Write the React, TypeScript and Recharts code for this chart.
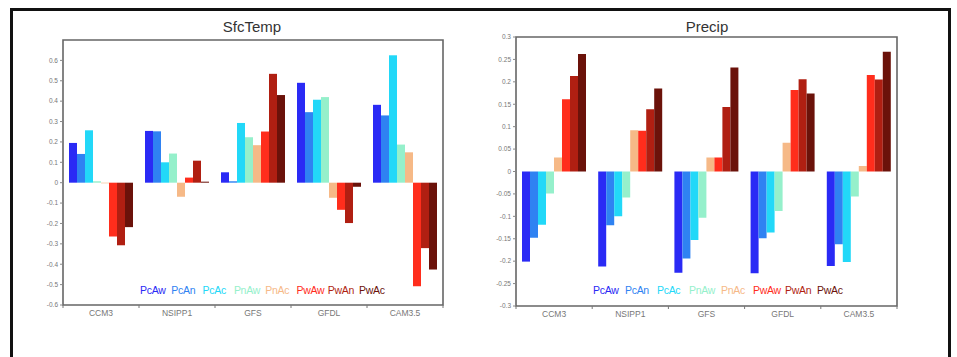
import React from "react";
import {
  Bar,
  BarChart,
  Legend,
  ReferenceArea,
  XAxis,
  YAxis,
} from "recharts";

const categories = ["CCM3", "NSIPP1", "GFS", "GFDL", "CAM3.5"];
const seriesNames = ["PcAw", "PcAn", "PcAc", "PnAw", "PnAc", "PwAw", "PwAn", "PwAc"];
const seriesColors = [
  "#2a2af5",
  "#2f82f2",
  "#22d8f8",
  "#95f0cb",
  "#f6b987",
  "#ff2d1c",
  "#b01f12",
  "#6b120a",
];

// SfcTemp, one array per experiment, in category order
const tempPcAw = [0.195, 0.254, 0.051, 0.49, 0.382];
const tempPcAn = [0.141, 0.252, 0.007, 0.346, 0.33];
const tempPcAc = [0.257, 0.1, 0.293, 0.407, 0.625];
const tempPnAw = [0.007, 0.143, 0.223, 0.42, 0.187];
const tempPnAc = [-0.003, -0.069, 0.184, -0.074, 0.149];
const tempPwAw = [-0.264, 0.025, 0.251, -0.133, -0.508];
const tempPwAn = [-0.307, 0.108, 0.534, -0.198, -0.321];
const tempPwAc = [-0.218, 0.005, 0.43, -0.02, -0.426];

// Precip
const precPcAw = [-0.201, -0.212, -0.226, -0.227, -0.211];
const precPcAn = [-0.148, -0.12, -0.194, -0.149, -0.162];
const precPcAc = [-0.119, -0.1, -0.153, -0.136, -0.202];
const precPnAw = [-0.049, -0.058, -0.103, -0.088, -0.056];
const precPnAc = [0.031, 0.092, 0.031, 0.064, 0.012];
const precPwAw = [0.161, 0.091, 0.031, 0.182, 0.215];
const precPwAn = [0.213, 0.139, 0.144, 0.206, 0.205];
const precPwAc = [0.262, 0.185, 0.232, 0.174, 0.267];

const tempTicks = [-0.6, -0.5, -0.4, -0.3, -0.2, -0.1, 0, 0.1, 0.2, 0.3, 0.4, 0.5, 0.6];
const precTicks = [-0.3, -0.25, -0.2, -0.15, -0.1, -0.05, 0, 0.05, 0.1, 0.15, 0.2, 0.25, 0.3];

function buildRows(series: number[][]) {
  return categories.map((name, i) => {
    const row: Record<string, string | number> = { name };
    seriesNames.forEach((s, k) => {
      row[s] = series[k][i];
    });
    return row;
  });
}

const tempData = buildRows([
  tempPcAw, tempPcAn, tempPcAc, tempPnAw, tempPnAc, tempPwAw, tempPwAn, tempPwAc,
]);
const precData = buildRows([
  precPcAw, precPcAn, precPcAc, precPnAw, precPnAc, precPwAw, precPwAn, precPwAc,
]);

const FONT = '"Liberation Sans", Arial, sans-serif';

const fmt = (v: number) => String(parseFloat(v.toFixed(2)));

// label at the band centre, tick marks at the band edges
function CategoryTick(props: any) {
  const { x, y, payload, index } = props;
  const half = payload?.offset || 38;
  const axisY = y - 5;
  const last = index === categories.length - 1;
  return (
    <g>
      <line x1={x - half} x2={x - half} y1={axisY} y2={axisY + 3} stroke="#777" />
      {last && (
        <line x1={x + half} x2={x + half} y1={axisY} y2={axisY + 3} stroke="#777" />
      )}
      <text
        x={x}
        y={y}
        dy="0.71em"
        textAnchor="middle"
        fill="#777"
        fontSize={8.5}
        fontFamily={FONT}
      >
        {payload.value}
      </text>
    </g>
  );
}

// legend keeps the series order (recharts would sort it by name)
function makeLegend(pitch: number) {
  return function ColorLegend() {
    return (
      <div style={{ display: "flex", fontFamily: FONT, fontSize: 10.5, letterSpacing: -0.3 }}>
        {seriesNames.map((s, k) => (
          <span key={s} style={{ color: seriesColors[k], width: pitch, whiteSpace: "nowrap" }}>
            {s}
          </span>
        ))}
      </div>
    );
  };
}

function Panel({
  title,
  data,
  domain,
  ticks,
  width,
  margin,
  legendLeft,
  legendPitch,
  titleX,
}: {
  title: string;
  data: Record<string, string | number>[];
  domain: [number, number];
  ticks: number[];
  width: number;
  margin: { top: number; right: number; bottom: number; left: number };
  legendLeft: number;
  legendPitch: number;
  titleX: number;
}) {
  return (
    <div style={{ position: "relative", width, height: 340 }}>
      <div
        style={{
          position: "absolute",
          left: titleX - 60,
          width: 120,
          top: 18,
          textAlign: "center",
          fontFamily: FONT,
          fontSize: 15,
          color: "#333",
        }}
      >
        {title}
      </div>
      <BarChart
        width={width}
        height={340}
        data={data}
        margin={margin}
        barCategoryGap={6}
        barGap={0}
      >
        <XAxis
          dataKey="name"
          axisLine={false}
          tickLine={false}
          tickSize={4}
          tickMargin={1}
          height={20}
          interval={0}
          tick={<CategoryTick />}
        />
        <YAxis
          type="number"
          domain={domain}
          ticks={ticks}
          width={30}
          axisLine={false}
          tickLine={{ stroke: "#888" }}
          tickSize={3}
          tickMargin={2}
          tickFormatter={fmt}
          tick={{ fill: "#777", fontSize: 6.5, fontFamily: FONT }}
          allowDataOverflow
        />
        {seriesNames.map((s, k) => (
          <Bar key={s} dataKey={s} fill={seriesColors[k]} isAnimationActive={false} />
        ))}
        <ReferenceArea
          y1={domain[0]}
          y2={domain[1]}
          fill="none"
          stroke="#666"
          strokeWidth={1.6}
        />
        <Legend
          layout="horizontal"
          verticalAlign="middle"
          align="center"
          content={makeLegend(legendPitch)}
          wrapperStyle={{ left: legendLeft, top: 284, width: legendPitch * 8 }}
        />
      </BarChart>
    </div>
  );
}

const edge = { position: "absolute" as const, background: "#111" };

export default function App() {
  return (
    <div
      style={{
        position: "absolute",
        left: 0,
        top: 0,
        width: 957,
        height: 357,
        overflow: "hidden",
        background: "#fff",
      }}
    >
      {/* outer frame: top, left and right edges only, bottom runs off the page */}
      <div style={{ ...edge, left: 10, top: 8, width: 941, height: 3 }} />
      <div style={{ ...edge, left: 10, top: 8, width: 3, height: 349 }} />
      <div style={{ ...edge, left: 948, top: 8, width: 3, height: 349 }} />
      <div style={{ position: "absolute", left: 0, top: 0 }}>
        <Panel
          title="SfcTemp"
          data={tempData}
          domain={[-0.6, 0.7]}
          ticks={tempTicks}
          width={480}
          margin={{ top: 40, right: 37, bottom: 15, left: 33 }}
          legendLeft={140}
          legendPitch={31.3}
          titleX={252}
        />
      </div>
      <div style={{ position: "absolute", left: 480, top: 0 }}>
        <Panel
          title="Precip"
          data={precData}
          domain={[-0.3, 0.3]}
          ticks={precTicks}
          width={477}
          margin={{ top: 37, right: 60, bottom: 14, left: 6 }}
          legendLeft={113}
          legendPitch={32}
          titleX={227}
        />
      </div>
    </div>
  );
}
